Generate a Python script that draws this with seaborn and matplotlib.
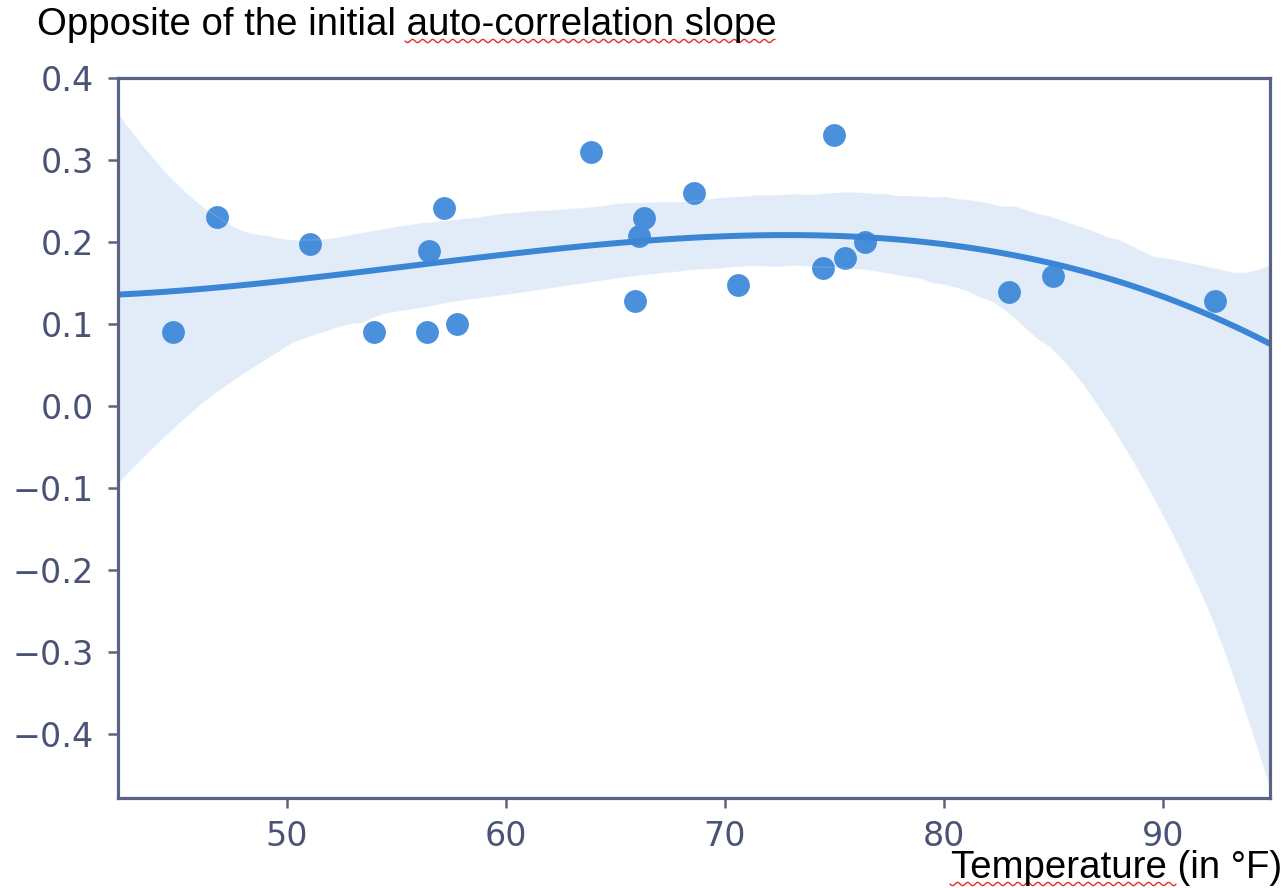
import numpy as np
import pandas as pd
import matplotlib
matplotlib.use("Agg")
import matplotlib.pyplot as plt
import seaborn as sns

# Daily mean temperature (°F) and the negated initial slope of the auto-correlation
temperature = [44.8, 46.8, 51.05, 54.0, 56.5, 56.4, 57.2, 57.8, 63.9, 65.9, 66.1,
               66.3, 68.6, 70.6, 74.5, 75.0, 75.5, 76.4, 83.0, 85.0, 92.4]
neg_slope = [0.09, 0.23, 0.197, 0.09, 0.189, 0.09, 0.241, 0.10, 0.31, 0.128, 0.207,
             0.229, 0.26, 0.148, 0.168, 0.33, 0.18, 0.20, 0.139, 0.159, 0.128]

x_ticks = [50, 60, 70, 80, 90]
y_ticks = [0.4, 0.3, 0.2, 0.1, 0.0, -0.1, -0.2, -0.3, -0.4]

df = pd.DataFrame({"temp": temperature, "slope": neg_slope})

sns.set_style("ticks")
plt.rcParams["font.family"] = ["DejaVu Sans"]

spine_col = "#5b6385"
tick_col = "#4a5275"
line_col = "#3a85d5"
point_col = "#4a90dc"

fig = plt.figure(figsize=(12.87, 8.88), dpi=100)
ax = fig.add_axes([118 / 1287, 1 - 798 / 888, (1270 - 118) / 1287, (798 - 78) / 888])
ax.set_xlim(42.3, 94.9)
ax.set_ylim(-0.478, 0.4)

# cubic fit, extended over the full x range, with a bootstrapped 95% band
sns.regplot(data=df, x="temp", y="slope", order=3, truncate=False, ci=95,
            n_boot=1000, seed=11, ax=ax, color=line_col,
            scatter_kws={"s": 270, "color": point_col, "alpha": 1, "linewidths": 0},
            line_kws={"lw": 4.3, "color": line_col})

ax.set_xlim(42.3, 94.9)
ax.set_ylim(-0.478, 0.4)
ax.set_xticks(x_ticks)
ax.set_yticks(y_ticks)
ax.set_xlabel("")
ax.set_ylabel("")
for s in ax.spines.values():
    s.set_visible(True)
    s.set_color(spine_col)
    s.set_linewidth(2.3)
ax.tick_params(axis="both", length=7.5, width=1.8, color=spine_col,
               labelsize=24, labelcolor=tick_col, pad=10)
ax.tick_params(axis="x", pad=8)

fig.text(37 / 1287, 1 - 35 / 888, "Opposite of the initial auto-correlation slope",
         family="Liberation Sans", fontsize=27.6, color="black", va="baseline", ha="left")
fig.text(1282 / 1287, 1 - 878 / 888, "Temperature (in °F)",
         family="Liberation Sans", fontsize=27.6, color="black", va="baseline", ha="right")


def wavy_underline(x0, x1, y):
    xs = np.linspace(x0, x1, int((x1 - x0) * 1.5))
    ys = y + 1.6 * np.sin((xs - x0) / 1.6)
    fig.add_artist(plt.Line2D(xs / 1287, 1 - ys / 888, color="#e0302a", lw=1.0,
                              transform=fig.transFigure))


wavy_underline(405, 775, 41)
wavy_underline(950, 1176, 884)

fig.savefig("out.png", dpi=100)
